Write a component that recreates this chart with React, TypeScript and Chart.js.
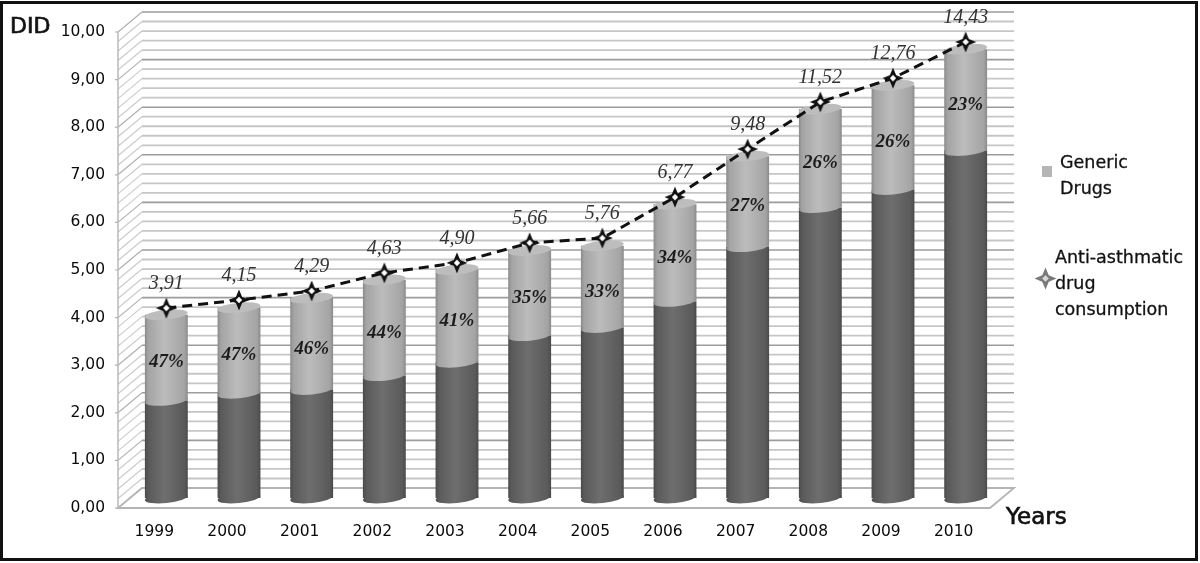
import React, { useEffect, useRef } from "react";
import { Chart, registerables } from "chart.js";

Chart.register(...registerables);

const years = ["1999", "2000", "2001", "2002", "2003", "2004", "2005", "2006", "2007", "2008", "2009", "2010"];
const brandHeights = [2.05, 2.2, 2.28, 2.57, 2.85, 3.41, 3.58, 4.13, 5.28, 6.1, 6.48, 7.3];
const genericHeights = [1.8, 1.8, 1.92, 2.01, 1.95, 1.79, 1.72, 2.04, 1.9, 2.07, 2.19, 2.13];
const consumptionMarkers = [3.99, 4.16, 4.35, 4.73, 4.94, 5.36, 5.46, 6.32, 7.33, 8.32, 8.82, 9.58];
const consumptionLabels = ["3,91", "4,15", "4,29", "4,63", "4,90", "5,66", "5,76", "6,77", "9,48", "11,52", "12,76", "14,43"];
const genericPercent = ["47%", "47%", "46%", "44%", "41%", "35%", "33%", "34%", "27%", "26%", "26%", "23%"];

const UI_FONT = '"DejaVu Sans"';
const SERIF = '"Liberation Serif"';
const DEPTH_X = 12;
const DEPTH_Y = 10;

function makeStar(size: number, dark: string, centre: string) {
  const c = document.createElement("canvas");
  c.width = size;
  c.height = size;
  const g = c.getContext("2d")!;
  const m = size / 2;
  const R = m - 0.5;
  const r = R * 0.42;
  g.beginPath();
  for (let i = 0; i < 8; i++) {
    const a = (i * Math.PI) / 4 - Math.PI / 2;
    const d = i % 2 === 0 ? R : r;
    g.lineTo(m + d * Math.cos(a), m + d * Math.sin(a));
  }
  g.closePath();
  g.fillStyle = dark;
  g.fill();
  const q = R * 0.3;
  g.beginPath();
  g.moveTo(m, m - q);
  g.lineTo(m + q, m);
  g.lineTo(m, m + q);
  g.lineTo(m - q, m);
  g.closePath();
  g.fillStyle = centre;
  g.fill();
  return c;
}

function barGradient(chart: any, index: number, stops: string[]) {
  const xs = chart.scales.x;
  if (!xs) return stops[1];
  const half = (xs.width / years.length) * 0.295;
  const x = xs.getPixelForValue(index);
  if (!Number.isFinite(x) || !Number.isFinite(half)) return stops[1];
  const g = chart.ctx.createLinearGradient(x - half, 0, x + half, 0);
  g.addColorStop(0, stops[0]);
  g.addColorStop(0.08, stops[1]);
  g.addColorStop(0.45, stops[2]);
  g.addColorStop(0.92, stops[1]);
  g.addColorStop(1, stops[0]);
  return g;
}

const DARK_STOPS = ["#4a4a4a", "#5a5a5a", "#6e6e6e"];
const LIGHT_STOPS = ["#8a8a8a", "#a4a4a4", "#bcbcbc"];

function ellipse(ctx: CanvasRenderingContext2D, x: number, y: number, rx: number, fill: any) {
  ctx.save();
  ctx.beginPath();
  ctx.ellipse(x, y, rx, 5, -0.1, 0, Math.PI * 2);
  ctx.fillStyle = fill;
  ctx.fill();
  ctx.restore();
}

function heavyText(ctx: CanvasRenderingContext2D, s: string, x: number, y: number, w: number) {
  ctx.lineWidth = w;
  ctx.strokeStyle = "#111111";
  ctx.strokeText(s, x, y);
  ctx.fillText(s, x, y);
}

const wallsPlugin = {
  id: "walls",
  beforeDatasetsDraw(chart: any) {
    const { ctx, chartArea: a, scales } = chart;
    const ys = scales.y;
    const fl = a.left - DEPTH_X;
    const bl = a.left + DEPTH_X;
    const fr = a.right - DEPTH_X;
    const br = a.right + DEPTH_X;
    ctx.save();
    ys.ticks.forEach((t: any) => {
      const p = ys.getPixelForValue(t.value);
      const major = Math.abs(t.value - Math.round(t.value)) < 1e-6;
      ctx.beginPath();
      ctx.strokeStyle = major ? "#9c9c9c" : "#c6c6c6";
      ctx.lineWidth = major ? 1.6 : 1.8;
      ctx.moveTo(bl, p - DEPTH_Y);
      ctx.lineTo(br, p - DEPTH_Y);
      ctx.stroke();
      ctx.beginPath();
      ctx.strokeStyle = major ? "#b0b0b0" : "#cccccc";
      ctx.lineWidth = 1.2;
      ctx.moveTo(fl, p + DEPTH_Y);
      ctx.lineTo(bl, p - DEPTH_Y);
      if (major) {
        ctx.moveTo(fl - 3, p + DEPTH_Y);
        ctx.lineTo(fl, p + DEPTH_Y);
      }
      ctx.stroke();
    });
    const y0 = ys.getPixelForValue(0);
    const y10 = ys.getPixelForValue(10);
    ctx.beginPath();
    ctx.strokeStyle = "#bdbdbd";
    ctx.lineWidth = 1.6;
    ctx.moveTo(fl, y10 + DEPTH_Y);
    ctx.lineTo(fl, y0 + DEPTH_Y);
    ctx.stroke();
    ctx.beginPath();
    ctx.moveTo(fl, y0 + DEPTH_Y);
    ctx.lineTo(fr, y0 + DEPTH_Y);
    ctx.lineTo(br, y0 - DEPTH_Y);
    ctx.lineTo(bl, y0 - DEPTH_Y);
    ctx.closePath();
    ctx.fillStyle = "#ffffff";
    ctx.fill();
    ctx.strokeStyle = "#b4b4b4";
    ctx.lineWidth = 1.8;
    ctx.stroke();
    ctx.restore();
  },
  afterDatasetDraw(chart: any, args: any) {
    if (args.index !== 0) return;
    const { ctx } = chart;
    const light = chart.getDatasetMeta(1).data;
    args.meta.data.forEach((el: any, k: number) => {
      const rx = el.width / 2;
      ellipse(ctx, el.x, el.base, rx, barGradient(chart, k, DARK_STOPS));
      ellipse(ctx, el.x, light[k].base, rx, barGradient(chart, k, LIGHT_STOPS));
      ellipse(ctx, el.x, light[k].y, rx, "#bdbdbd");
    });
  },
  afterDatasetsDraw(chart: any) {
    const { ctx } = chart;
    const light = chart.getDatasetMeta(1).data;
    const line = chart.getDatasetMeta(2).data;
    ctx.save();
    ctx.textAlign = "center";
    ctx.textBaseline = "middle";
    ctx.font = `italic bold 19px ${SERIF}`;
    ctx.fillStyle = "#1c1c1c";
    light.forEach((el: any, k: number) => {
      ctx.fillText(genericPercent[k], el.x, (el.y + el.base) / 2 + 5);
    });
    ctx.font = `italic 20px ${SERIF}`;
    ctx.fillStyle = "#333333";
    line.forEach((el: any, k: number) => {
      ctx.fillText(consumptionLabels[k], el.x, el.y - 24);
    });
    ctx.restore();
  },
  afterDraw(chart: any) {
    const { ctx } = chart;
    ctx.save();
    ctx.strokeStyle = "#111111";
    ctx.lineWidth = 3;
    ctx.strokeRect(1.5, 2.5, 1195, 557);
    ctx.fillStyle = "#111111";
    ctx.textBaseline = "middle";
    ctx.textAlign = "left";
    ctx.font = `22px ${UI_FONT}`;
    heavyText(ctx, "DID", 10, 27, 0.7);
    ctx.font = `23px ${UI_FONT}`;
    heavyText(ctx, "Years", 1006, 518, 0.7);
    ctx.font = `17.5px ${UI_FONT}`;
    heavyText(ctx, "Generic", 1060, 163, 0.3);
    heavyText(ctx, "Drugs", 1060, 189, 0.3);
    heavyText(ctx, "Anti-asthmatic", 1055, 258, 0.3);
    heavyText(ctx, "drug", 1055, 284, 0.3);
    heavyText(ctx, "consumption", 1055, 310, 0.3);
    ctx.fillStyle = "#b5b5b5";
    ctx.fillRect(1042, 166, 10, 11);
    ctx.drawImage(makeStar(23, "#7a7a7a", "#d8d8d8"), 1034, 267);
    ctx.restore();
  },
};

export default function App() {
  const ref = useRef<HTMLCanvasElement | null>(null);
  useEffect(() => {
    const star = makeStar(22, "#111111", "#ffffff");
    const chart = new Chart(ref.current!, {
      type: "bar",
      data: {
        labels: years,
        datasets: [
          {
            label: "Brand Drugs",
            data: brandHeights,
            order: 2,
            stack: "s",
            backgroundColor: (c: any) => barGradient(c.chart, c.dataIndex, DARK_STOPS),
            categoryPercentage: 1,
            barPercentage: 0.59,
          },
          {
            label: "Generic Drugs",
            data: genericHeights,
            order: 3,
            stack: "s",
            backgroundColor: (c: any) => barGradient(c.chart, c.dataIndex, LIGHT_STOPS),
            categoryPercentage: 1,
            barPercentage: 0.59,
          },
          {
            type: "line",
            label: "Anti-asthmatic drug consumption",
            data: consumptionMarkers,
            order: 1,
            borderColor: "#111111",
            borderWidth: 3,
            borderDash: [10, 6],
            pointStyle: star,
            pointRadius: 10,
            tension: 0,
            fill: false,
          },
        ] as any,
      },
      options: {
        responsive: false,
        animation: false,
        layout: { padding: { left: 0, top: 22, right: 198, bottom: 0 } },
        plugins: { legend: { display: false }, tooltip: { enabled: false } },
        scales: {
          x: {
            stacked: true,
            grid: { display: false, drawTicks: false },
            border: { display: false },
            afterFit: (s: any) => {
              s.height = 65;
              s.paddingLeft = 0;
              s.paddingRight = 0;
            },
            ticks: {
              color: "#0a0a0a",
              font: { family: UI_FONT, size: 15.5 },
              padding: 25,
              labelOffset: -DEPTH_X,
              maxRotation: 0,
              autoSkip: false,
            },
          },
          y: {
            stacked: true,
            min: 0,
            max: 10,
            grid: { display: false, drawTicks: false },
            border: { display: false },
            afterFit: (s: any) => {
              s.width = 130;
              s.paddingTop = 0;
              s.paddingBottom = 0;
            },
            ticks: {
              stepSize: 0.2,
              autoSkip: false,
              color: "#0a0a0a",
              font: { family: UI_FONT, size: 15.5 },
              padding: 25,
              labelOffset: DEPTH_Y,
              callback: (v: any) =>
                Math.abs(Number(v) - Math.round(Number(v))) < 1e-6 ? Number(v).toFixed(2).replace(".", ",") : "",
            },
          },
        },
      },
      plugins: [wallsPlugin as any],
    });
    return () => chart.destroy();
  }, []);
  return (
    <div style={{ position: "absolute", left: 0, top: 0, width: 1200, height: 563, background: "#fff" }}>
      <canvas ref={ref} width={1200} height={563} style={{ display: "block", filter: "blur(0.5px)" }} />
    </div>
  );
}
